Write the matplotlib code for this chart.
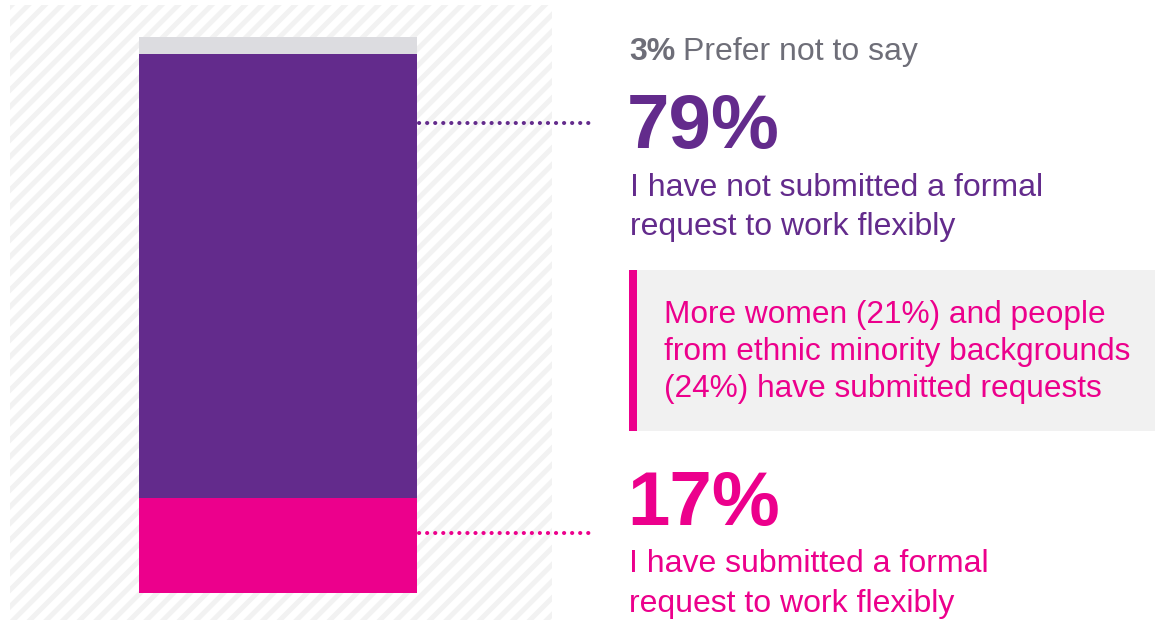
import matplotlib.pyplot as plt
from matplotlib.patches import Rectangle

plt.rcParams['font.family'] = ['Liberation Sans', 'DejaVu Sans']
plt.rcParams['hatch.linewidth'] = 3.6

# stacked shares, bottom to top
labels = ['Submitted', 'Not submitted', 'Prefer not to say']
shares = [17, 79, 3]
colors = ['#ec008c', '#632b8c', '#dcdce0']

W, H = 1155, 620
fig = plt.figure(figsize=(W / 100, H / 100), dpi=100)

# full-size overlay in pixel units (y grows downwards)
ov = fig.add_axes([0, 0, 1, 1])
ov.set_xlim(0, W)
ov.set_ylim(H, 0)
ov.axis('off')

# striped background behind the bar
ov.add_patch(Rectangle((10, 5), 542, 620, facecolor='white', edgecolor='#f2f2f2',
                       hatch='//', linewidth=0, zorder=0))

# stacked bar
bx = fig.add_axes([139 / W, (H - 593) / H, (417 - 139) / W, (593 - 37) / H])
bx.patch.set_visible(False)
bottom = 0
for val, col in zip(shares, colors):
    bx.bar(0, val, bottom=bottom, width=1, color=col, linewidth=0)
    bottom += val
bx.set_xlim(-0.5, 0.5)
bx.set_ylim(0, sum(shares))
bx.axis('off')

# dotted leader lines
dots = (0, (0.05, 1.95))
ov.plot([419, 591], [123, 123], linestyle=dots, color=colors[1],
        linewidth=2.9, dash_capstyle='round', zorder=3)
ov.plot([419, 591], [533, 533], linestyle=dots, color=colors[0],
        linewidth=2.9, dash_capstyle='round', zorder=3)

grey = '#6e6e78'
t = ov.text(629, 60, f'{shares[2]}%', fontsize=23, fontweight='bold', color=grey,
            va='baseline')
fig.canvas.draw()
bb = t.get_window_extent()
ov.text(629 + bb.width + 8, 60, 'Prefer not to say', fontsize=23, color=grey,
        va='baseline')

ov.text(627, 148, f'{shares[1]}%', fontsize=55, fontweight='bold', color=colors[1],
        va='baseline')
ov.text(630, 196, 'I have not submitted a formal', fontsize=23, color=colors[1],
        va='baseline')
ov.text(630, 235, 'request to work flexibly', fontsize=23, color=colors[1],
        va='baseline')

# callout box
ov.add_patch(Rectangle((630, 270), 525, 161, facecolor='#f1f1f1', edgecolor='none',
                       zorder=1))
ov.add_patch(Rectangle((629, 270), 8, 161, facecolor=colors[0], edgecolor='none',
                       zorder=2))
for y, line in zip([323, 360, 397], ['More women (21%) and people',
                                     'from ethnic minority backgrounds',
                                     '(24%) have submitted requests']):
    ov.text(664, y, line, fontsize=22.8, color=colors[0], va='baseline', zorder=3)

ov.text(627, 525, f'{shares[0]}%', fontsize=55, fontweight='bold', color=colors[0],
        va='baseline')
ov.text(629, 572, 'I have submitted a formal', fontsize=23, color=colors[0],
        va='baseline')
ov.text(629, 612, 'request to work flexibly', fontsize=23, color=colors[0],
        va='baseline')

fig.savefig('out.png', dpi=100)
